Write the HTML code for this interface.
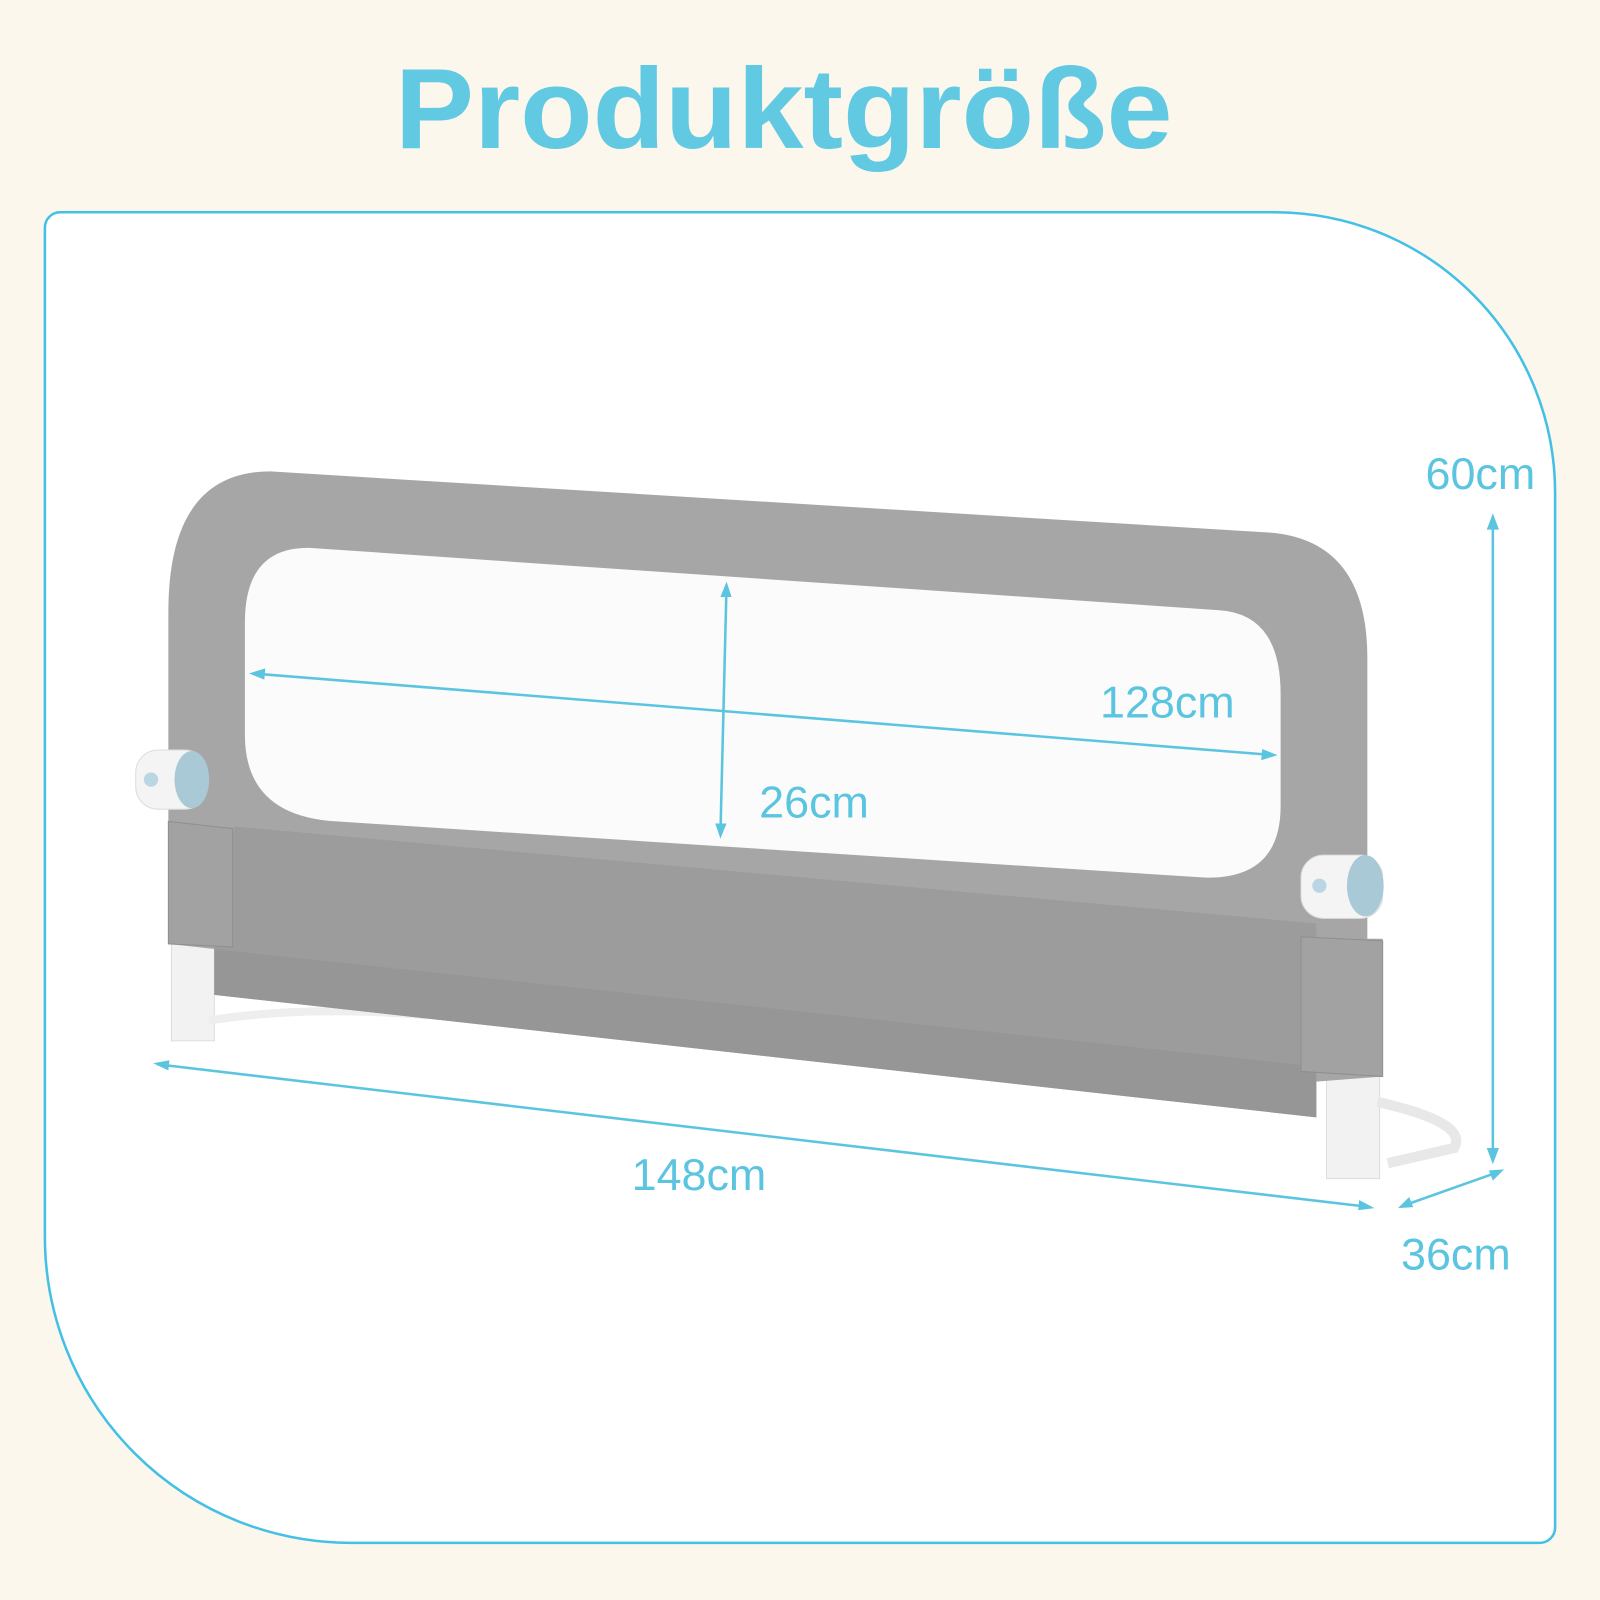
<!DOCTYPE html>
<html><head><meta charset="utf-8"><style>
html,body{margin:0;padding:0;background:#fbf7ec;}
svg{display:block}
</style></head><body>
<svg width="1600" height="1600" viewBox="0 0 1568 1568" xmlns="http://www.w3.org/2000/svg">
<rect width="1568" height="1568" fill="#fbf7ec"/>
<path d="M59,208 L1250,208 A275,275 0 0 1 1524,483 L1524,1497 A15,15 0 0 1 1509,1512 L345,1512 A300,300 0 0 1 44,1212 L44,223 A15,15 0 0 1 59,208 Z" fill="#fff" stroke="#44c0e6" stroke-width="2.5"/>
<text x="768" y="145" text-anchor="middle" font-family="Liberation Sans, sans-serif" font-weight="bold" font-size="112" fill="#62c9e3" textLength="762" lengthAdjust="spacingAndGlyphs">Produktgröße</text>

<!-- legs -->
<rect x="168" y="900" width="42" height="120" fill="#f2f2f2" stroke="#ddd"/>
<path d="M205,1000 Q300,985 420,995" stroke="#eee" stroke-width="8" fill="none"/>
<rect x="1300" y="1055" width="52" height="100" fill="#f2f2f2" stroke="#ddd"/>
<path d="M1350,1080 Q1440,1100 1425,1125 L1360,1140" stroke="#e8e8e8" stroke-width="10" fill="none"/>

<!-- main panel -->
<path d="M165,600 Q165,462 265,462 L1245,522 Q1340,530 1340,645 L1340,920 L1355,920 L1355,1055 L1290,1060 L1290,1095 L210,975 L210,930 L165,925 Z" fill="#a6a6a6"/>
<path d="M230,810 L1290,905 L1290,1045 L210,930 Z" fill="#9c9c9c"/>
<path d="M210,930 L1290,1045 L1290,1095 L210,975 Z" fill="#969696"/>
<path d="M165,805 L228,812 L228,928 L165,925 Z" fill="#a2a2a2" stroke="#8f8f8f"/>
<path d="M1275,918 L1355,922 L1355,1055 L1275,1050 Z" fill="#a2a2a2" stroke="#8f8f8f"/>
<!-- mesh -->
<path d="M305,537 L1195,598 Q1255,602 1255,680 L1255,790 Q1255,862 1180,860 L330,805 Q240,800 240,720 L240,610 Q240,535 305,537 Z" fill="#fbfbfb"/>

<!-- knobs -->
<rect x="133" y="735" width="70" height="58" rx="22" fill="#f4f4f4" stroke="#ddd"/>
<ellipse cx="188" cy="764" rx="17" ry="28" fill="#a9c9d6"/>
<circle cx="148" cy="764" r="7" fill="#b9d6e2"/>
<rect x="1275" y="838" width="80" height="62" rx="22" fill="#f4f4f4" stroke="#ddd"/>
<ellipse cx="1338" cy="868" rx="18" ry="30" fill="#a9c9d6"/>
<circle cx="1293" cy="868" r="7" fill="#b9d6e2"/>

<!-- dimension lines -->
<g stroke="#5bc5e0" stroke-width="2.5" fill="#5bc5e0">
<line x1="248" y1="660" x2="1248" y2="740"/>
<line x1="712" y1="574" x2="706" y2="818"/>
<line x1="154" y1="1043" x2="1343" y2="1183"/>
<line x1="1463" y1="508" x2="1463" y2="1136"/>
<line x1="1374" y1="1182" x2="1470" y2="1148"/>
</g>
<g fill="#5bc5e0">
<polygon points="244,660 260,655 259,666"/>
<polygon points="1252,740 1236,745 1237,734"/>
<polygon points="712,570 706,585 717,585"/>
<polygon points="706,822 701,807 712,807"/>
<polygon points="150,1042 166,1039 165,1049"/>
<polygon points="1347,1184 1331,1186 1332,1176"/>
<polygon points="1463,503 1457,519 1469,519"/>
<polygon points="1463,1141 1457,1125 1469,1125"/>
<polygon points="1370,1184 1381,1173 1385,1183"/>
<polygon points="1474,1146 1463,1157 1459,1147"/>
</g>
<g font-family="Liberation Sans, sans-serif" font-size="44" fill="#5bc5e0">
<text x="1078" y="703">128cm</text>
<text x="744" y="801">26cm</text>
<text x="619" y="1166">148cm</text>
<text x="1397" y="479">60cm</text>
<text x="1373" y="1244">36cm</text>
</g>
</svg>
</body></html>
